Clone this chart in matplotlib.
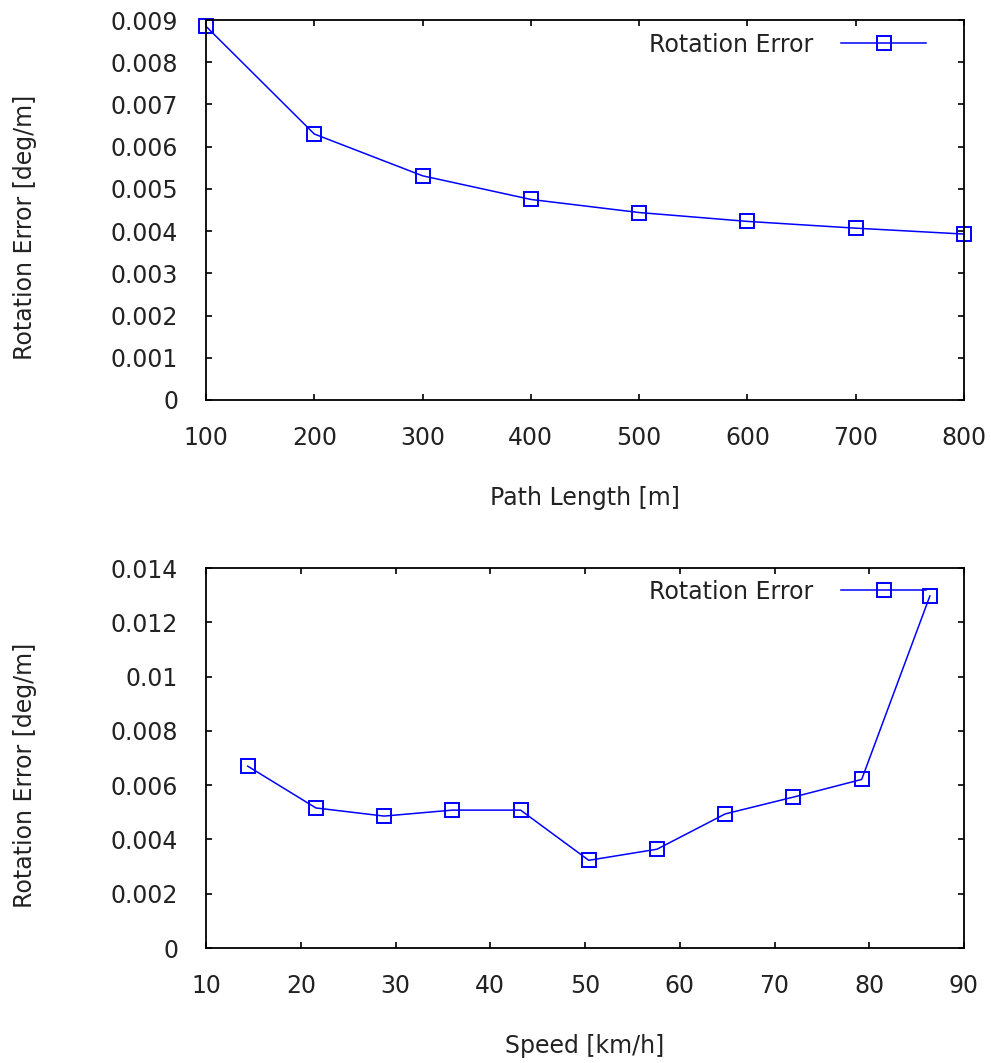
import matplotlib
matplotlib.use('Agg')
import matplotlib.pyplot as plt

plt.rcParams['font.family'] = ['DejaVu Sans']

# Data
path_length = [100, 200, 300, 400, 500, 600, 700, 800]
rot_err_path = [0.00885, 0.00630, 0.00531, 0.00475, 0.00444, 0.00423, 0.00407, 0.00393]

speed = [14.4, 21.6, 28.8, 36.0, 43.2, 50.4, 57.6, 64.8, 72.0, 79.2, 86.4]
rot_err_speed = [0.00670, 0.00516, 0.00486, 0.00508, 0.00508, 0.00323, 0.00364,
                 0.00494, 0.00556, 0.00621, 0.01297]

top_xticks = [100, 200, 300, 400, 500, 600, 700, 800]
top_yticks = [0, 0.001, 0.002, 0.003, 0.004, 0.005, 0.006, 0.007, 0.008, 0.009]
top_ylabels = ['0', '0.001', '0.002', '0.003', '0.004', '0.005', '0.006', '0.007', '0.008', '0.009']
bot_xticks = [10, 20, 30, 40, 50, 60, 70, 80, 90]
bot_yticks = [0, 0.002, 0.004, 0.006, 0.008, 0.01, 0.012, 0.014]
bot_ylabels = ['0', '0.002', '0.004', '0.006', '0.008', '0.01', '0.012', '0.014']

W, H = 991, 1063
fig = plt.figure(figsize=(W / 100, H / 100), dpi=100)

ax1 = fig.add_axes([206 / W, 1 - 400 / H, 758 / W, 380 / H])
ax2 = fig.add_axes([206 / W, 1 - 948 / H, 758 / W, 380 / H])

FS = 17


def style(ax, x, y, xlim, ylim, xticks, yticks, ylabels, xlabel, leg_y):
    ax.plot(x, y, color='#0000ff', lw=1.1, marker='s', ms=10, mfc='none',
            mec='#0000ff', mew=1.4, label='Rotation Error', clip_on=False)
    ax.set_xlim(*xlim)
    ax.set_ylim(*ylim)
    ax.set_xticks(xticks)
    ax.set_xticklabels([str(t) for t in xticks])
    ax.set_yticks(yticks)
    ax.set_yticklabels(ylabels)
    ax.tick_params(direction='in', length=4.5, width=1.2, top=True, right=True,
                   labelsize=FS, colors='black', labelcolor='#222222')
    ax.tick_params(axis='x', pad=19)
    ax.tick_params(axis='y', pad=20)
    for s in ax.spines.values():
        s.set_linewidth(1.3)
        s.set_color('black')
    ax.set_xlabel(xlabel, fontsize=FS, labelpad=26, color='#222222')
    ax.set_ylabel('Rotation Error [deg/m]', fontsize=FS, color='#222222')
    # gnuplot puts the y label a bit below the middle and far to the left
    ax.yaxis.set_label_coords(-0.223, 0.453)
    leg = ax.legend(loc='center right', bbox_to_anchor=(0.95, leg_y), frameon=False,
                    markerfirst=False, fontsize=FS, handlelength=3.6, handletextpad=1.2,
                    borderpad=0, borderaxespad=0)
    for t in leg.get_texts():
        t.set_color('#222222')


style(ax1, path_length, rot_err_path, (100, 800), (0, 0.009),
      top_xticks, top_yticks, top_ylabels, 'Path Length [m]', 0.935)
style(ax2, speed, rot_err_speed, (10, 90), (0, 0.014),
      bot_xticks, bot_yticks, bot_ylabels, 'Speed [km/h]', 0.938)

fig.savefig('out.png', dpi=100)
